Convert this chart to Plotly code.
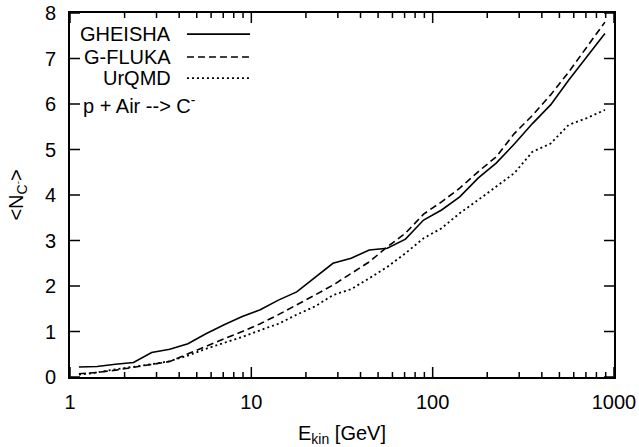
import math
import plotly.graph_objects as go

# Kinetic energy points (GeV), 10 per decade
energy = [1.12, 1.41, 1.78, 2.24, 2.82, 3.55, 4.47, 5.62, 7.08, 8.91,
          11.2, 14.1, 17.8, 22.4, 28.2, 35.5, 44.7, 56.2, 70.8, 89.1,
          112, 141, 178, 224, 282, 355, 447, 562, 708, 891]

gheisha = [0.22, 0.23, 0.28, 0.32, 0.54, 0.61, 0.73, 0.95, 1.15, 1.33,
           1.48, 1.69, 1.87, 2.19, 2.50, 2.61, 2.79, 2.83, 3.03, 3.45,
           3.67, 3.96, 4.37, 4.70, 5.12, 5.57, 5.98, 6.52, 7.03, 7.55]

gfluka = [0.07, 0.10, 0.15, 0.21, 0.27, 0.34, 0.51, 0.68, 0.84, 1.00,
          1.17, 1.37, 1.58, 1.80, 2.02, 2.28, 2.53, 2.86, 3.16, 3.58,
          3.85, 4.15, 4.51, 4.84, 5.35, 5.75, 6.20, 6.70, 7.25, 7.80]

urqmd = [0.05, 0.10, 0.17, 0.22, 0.28, 0.35, 0.47, 0.62, 0.75, 0.88,
         1.03, 1.17, 1.37, 1.55, 1.80, 1.93, 2.17, 2.42, 2.72, 3.05,
         3.27, 3.60, 3.89, 4.18, 4.48, 4.95, 5.13, 5.54, 5.69, 5.87]

series_names = ["GHEISHA", "G-FLUKA", "UrQMD"]
series_values = [gheisha, gfluka, urqmd]
series_dash = ["solid", "7px,4px", "2px,3px"]

x_tickvals = [1, 10, 100, 1000]
x_ticktext = ["1", "10", "100", "1000"]
x_minorvals = [m * d for d in (1, 10, 100) for m in range(2, 10)]
y_tickvals = [0, 1, 2, 3, 4, 5, 6, 7, 8]

X_RANGE = [0, 3]      # log10 range
Y_RANGE = [0, 8]

W, H = 639, 447
M = dict(l=70, r=25, t=13, b=70)
PLOT_W = W - M["l"] - M["r"]
PLOT_H = H - M["t"] - M["b"]

FONT = "Liberation Sans, Arial, Helvetica, sans-serif"
FS = 20

fig = go.Figure()
for name, vals, dash in zip(series_names, series_values, series_dash):
    fig.add_trace(go.Scatter(
        x=energy, y=vals, mode="lines", name=name,
        line=dict(color="black", width=1.6 if dash != "2px,3px" else 1.8, dash=dash),
        showlegend=False, hoverinfo="skip",
    ))

# Tick marks (inside, mirrored on all four sides), built from the tick arrays
y_per_px = (Y_RANGE[1] - Y_RANGE[0]) / PLOT_H
logx_per_px = (X_RANGE[1] - X_RANGE[0]) / PLOT_W
tx, ty = [], []
for vals, ln in ((x_tickvals, 10), (x_minorvals, 5)):
    dy = ln * y_per_px
    for v in vals:
        tx += [v, v, None, v, v, None]
        ty += [Y_RANGE[0], Y_RANGE[0] + dy, None, Y_RANGE[1], Y_RANGE[1] - dy, None]
xl, xr = 10 ** X_RANGE[0], 10 ** X_RANGE[1]
fx = 10 ** (10 * logx_per_px)
for v in y_tickvals:
    tx += [xl, xl * fx, None, xr, xr / fx, None]
    ty += [v, v, None, v, v, None]
fig.add_trace(go.Scatter(x=tx, y=ty, mode="lines", showlegend=False,
                         hoverinfo="skip", line=dict(color="black", width=1.5)))

# Gnuplot-style key: text right-aligned, sample line to the right
key_y = [0.942, 0.879, 0.821]
for name, dash, yk in zip(series_names, series_dash, key_y):
    fig.add_annotation(x=0.189, y=yk, xref="paper", yref="paper", text=name,
                       showarrow=False, xanchor="right", yanchor="middle",
                       font=dict(family=FONT, size=FS, color="black"))
    fig.add_shape(type="line", xref="paper", yref="paper",
                  x0=0.215, x1=0.331, y0=yk, y1=yk,
                  line=dict(color="black", width=1.6 if dash != "2px,3px" else 1.8, dash=dash))

fig.add_annotation(x=0.02, y=0.75, xref="paper", yref="paper",
                   text="p + Air --> C<sup>-</sup>", showarrow=False,
                   xanchor="left", yanchor="middle",
                   font=dict(family=FONT, size=FS, color="black"))

fig.update_xaxes(
    type="log", range=X_RANGE,
    tickmode="array", tickvals=x_tickvals, ticktext=x_ticktext,
    ticks="", showline=True, linewidth=2, linecolor="black", mirror=True,
    showgrid=False, zeroline=False, automargin=False,
    tickfont=dict(family=FONT, size=FS, color="black"),
    ticklabelstandoff=6,
    title=dict(text="E<sub>kin</sub> [GeV]", font=dict(family=FONT, size=FS, color="black"),
               standoff=14),
)
fig.update_yaxes(
    range=Y_RANGE, tickmode="array", tickvals=y_tickvals,
    ticks="", showline=True, linewidth=2, linecolor="black", mirror=True,
    showgrid=False, zeroline=False, automargin=False,
    tickfont=dict(family=FONT, size=FS, color="black"),
    ticklabelstandoff=8,
    title=dict(text="&lt;N<sub>C<sup>-</sup></sub>&gt;", font=dict(family=FONT, size=FS, color="black"),
               standoff=16),
)

fig.update_layout(
    template="none",
    width=W, height=H,
    margin=M,
    paper_bgcolor="white", plot_bgcolor="white",
    showlegend=False,
)

fig.write_html("out.html", config={"displayModeBar": False},
               post_script="document.body.style.margin='0';document.body.style.padding='0';")
